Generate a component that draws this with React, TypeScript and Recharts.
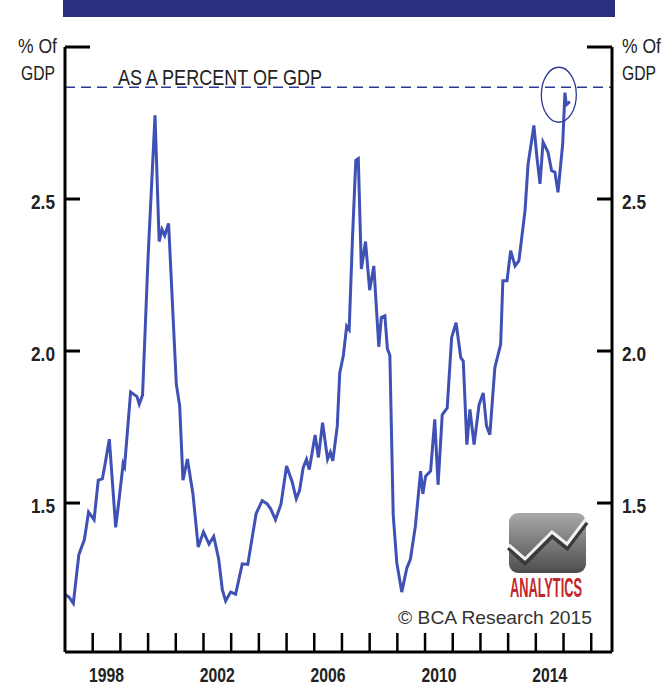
import React from "react";
import {
  LineChart,
  Line,
  XAxis,
  YAxis,
  ReferenceLine,
  ReferenceDot,
} from "recharts";

// decimal years and the ratio (% of GDP)
const years = [
  1997.0, 1997.15, 1997.3, 1997.5, 1997.7, 1997.85, 1998.05, 1998.2, 1998.35, 1998.45,
  1998.6, 1998.83, 1998.95, 1999.1, 1999.15, 1999.37, 1999.6, 1999.68, 1999.8, 2000.0,
  2000.25, 2000.4, 2000.5, 2000.6, 2000.74, 2001.02, 2001.14, 2001.26, 2001.42, 2001.62,
  2001.81, 2002.0, 2002.2, 2002.37, 2002.55, 2002.68, 2002.8, 2002.98, 2003.16, 2003.4,
  2003.6, 2003.9, 2004.12, 2004.3, 2004.43, 2004.6, 2004.8, 2005.0, 2005.2, 2005.35,
  2005.47, 2005.6, 2005.72, 2005.82, 2006.03, 2006.15, 2006.3, 2006.48, 2006.58, 2006.67,
  2006.83, 2006.92, 2007.05, 2007.17, 2007.26, 2007.38, 2007.5, 2007.59, 2007.7, 2007.85,
  2008.0, 2008.15, 2008.33, 2008.42, 2008.55, 2008.64, 2008.73, 2008.85, 2008.98, 2009.16,
  2009.34, 2009.47, 2009.65, 2009.84, 2009.92, 2010.02, 2010.2, 2010.35, 2010.47, 2010.62,
  2010.8, 2010.96, 2011.12, 2011.29, 2011.38, 2011.51, 2011.62, 2011.77, 2011.95, 2012.1,
  2012.22, 2012.34, 2012.52, 2012.73, 2012.81, 2012.96, 2013.09, 2013.25, 2013.39, 2013.61,
  2013.72, 2013.93, 2014.04, 2014.15, 2014.26, 2014.44, 2014.57, 2014.69, 2014.8, 2014.97,
  2015.05, 2015.1, 2015.23,
];

const ratio = [
  1.2, 1.19, 1.17, 1.33, 1.38, 1.47, 1.445, 1.575, 1.58, 1.63,
  1.71, 1.42, 1.51, 1.63, 1.62, 1.865, 1.85, 1.825, 1.855, 2.31,
  2.775, 2.36, 2.4, 2.38, 2.42, 1.89, 1.82, 1.575, 1.645, 1.53,
  1.355, 1.405, 1.365, 1.39, 1.315, 1.215, 1.178, 1.207, 1.2, 1.3,
  1.298, 1.465, 1.508, 1.497, 1.48, 1.445, 1.497, 1.622, 1.57, 1.514,
  1.542, 1.616, 1.644, 1.61, 1.724, 1.65, 1.764, 1.644, 1.667, 1.639,
  1.752, 1.928, 1.985, 2.082, 2.07, 2.372, 2.627, 2.633, 2.27, 2.36,
  2.2, 2.28, 2.014, 2.11, 2.116, 2.008, 1.985, 1.462, 1.303, 1.207,
  1.286, 1.315, 1.423, 1.605, 1.53, 1.588, 1.605, 1.775, 1.56, 1.79,
  1.813, 2.044, 2.093, 1.978, 1.967, 1.692, 1.808, 1.692, 1.823, 1.862,
  1.753, 1.725, 1.945, 2.022, 2.231, 2.231, 2.33, 2.28, 2.297, 2.462,
  2.615, 2.742, 2.637, 2.55, 2.687, 2.654, 2.593, 2.588, 2.522, 2.681,
  2.85, 2.81, 2.82,
];

const yearTicks = [
  1998, 1999, 2000, 2001, 2002, 2003, 2004, 2005, 2006, 2007,
  2008, 2009, 2010, 2011, 2012, 2013, 2014, 2015, 2016,
];
const labelYears = [1998, 2002, 2006, 2010, 2014];
const valueTicks = [1.5, 2.0, 2.5, 3.0];

const peakLevel = 2.868;
const circleAt = { x: 2014.83, y: 2.843 };

const data = years.map((t, i) => ({ t, v: ratio[i] }));

const W = 670;
const H = 698;
const LEFT = 65;
const RIGHT_W = 58;
const X_DOMAIN: [number, number] = [1997, 2016.75];
const pxPerYear = (W - LEFT - RIGHT_W) / (X_DOMAIN[1] - X_DOMAIN[0]);

// no condensed font installed, so squeeze with textLength
const sans = "'Liberation Sans', Arial, sans-serif";
const ink = "#222";
const squeeze = { lengthAdjust: "spacingAndGlyphs" as const };

const XTick = (props: any) => {
  const { x, y, payload } = props;
  const yr = payload.value;
  return (
    <g>
      <line x1={x} y1={y} x2={x} y2={y - 19} stroke="#000" strokeWidth={2.5} />
      {labelYears.includes(yr) && (
        <text
          x={x + pxPerYear / 2}
          y={y + 30}
          textAnchor="middle"
          fontFamily={sans}
          fontWeight="bold"
          fontSize={21}
          fill={ink}
          textLength={35}
          {...squeeze}
        >
          {yr}
        </text>
      )}
    </g>
  );
};

const makeYTick = (side: "left" | "right") => (props: any) => {
  const { x, y, payload } = props;
  const dir = side === "left" ? 1 : -1;
  const top = payload.value === 3;
  const len = top ? 25 : 15;
  const lx = side === "left" ? x - 10 : x + 10;
  return (
    <g>
      <line x1={x} y1={y} x2={x + dir * len} y2={y} stroke="#000" strokeWidth={3} />
      {top ? (
        <g fontFamily={sans} fontSize={21} fill={ink}>
          <text
            x={side === "left" ? 18 : x + 10}
            y={y + 6}
            textLength={39}
            {...squeeze}
          >
            % Of
          </text>
          <text
            x={side === "left" ? 21 : x + 10}
            y={y + 33}
            textLength={34}
            {...squeeze}
          >
            GDP
          </text>
        </g>
      ) : (
        <text
          x={lx}
          y={y + 10}
          textAnchor={side === "left" ? "end" : "start"}
          fontFamily={sans}
          fontWeight="bold"
          fontSize={21}
          fill={ink}
          textLength={24}
          {...squeeze}
        >
          {payload.value.toFixed(1)}
        </text>
      )}
    </g>
  );
};

const Logo = () => (
  <svg
    width={W}
    height={H}
    style={{ position: "absolute", left: 0, top: 0, pointerEvents: "none" }}
  >
    <defs>
      <linearGradient id="logoGrey" x1="0" y1="0" x2="0" y2="1">
        <stop offset="0%" stopColor="#a9a9a9" />
        <stop offset="100%" stopColor="#4d4d4d" />
      </linearGradient>
    </defs>
    <rect x={63} y={0} width={552} height={17} fill="#2b2f80" />
    <rect x={509} y={513} width={77} height={60} rx={9} fill="url(#logoGrey)" />
    <polyline
      points="509,547 525,562 552,535 567,547 586,522"
      fill="none"
      stroke="#3a3a3a"
      strokeWidth={6}
    />
    <polyline
      points="509,545 525,559 552,532 567,544 586,519"
      fill="none"
      stroke="#f2f2f2"
      strokeWidth={3}
    />
    <text
      x={510}
      y={597}
      fontFamily={sans}
      fontWeight="bold"
      fontSize={28}
      fill="#c1272d"
      textLength={72}
      {...squeeze}
    >
      ANALYTICS
    </text>
    <text
      x={592}
      y={624}
      textAnchor="end"
      fontFamily={sans}
      fontSize={19}
      fill="#333"
      textLength={194}
      {...squeeze}
    >
      © BCA Research 2015
    </text>
  </svg>
);

export default function App() {
  return (
    <div style={{ position: "absolute", left: 0, top: 0, width: W, height: H, background: "#fff" }}>
      <LineChart
        width={W}
        height={H}
        data={data}
        margin={{ top: 47, right: 0, bottom: 0, left: 0 }}
      >
        <XAxis
          dataKey="t"
          type="number"
          domain={X_DOMAIN}
          ticks={yearTicks}
          height={46}
          tickSize={0}
          tickMargin={0}
          tickLine={false}
          axisLine={{ stroke: "#000", strokeWidth: 3 }}
          tick={<XTick />}
          interval={0}
          allowDataOverflow
        />
        <YAxis
          yAxisId="l"
          orientation="left"
          width={LEFT}
          domain={[1.01, 3]}
          ticks={valueTicks}
          tickSize={0}
          tickMargin={0}
          tickLine={false}
          axisLine={{ stroke: "#000", strokeWidth: 3 }}
          tick={makeYTick("left")}
          interval={0}
          allowDataOverflow
        />
        <YAxis
          yAxisId="r"
          orientation="right"
          width={RIGHT_W}
          domain={[1.01, 3]}
          ticks={valueTicks}
          tickSize={0}
          tickMargin={0}
          tickLine={false}
          axisLine={{ stroke: "#000", strokeWidth: 3 }}
          tick={makeYTick("right")}
          interval={0}
          allowDataOverflow
        />
        <ReferenceLine
          yAxisId="l"
          y={peakLevel}
          stroke="#2d3a8f"
          strokeWidth={1.5}
          strokeDasharray="10 6"
          label={(p: any) => (
            <text
              x={p.viewBox.x + 53}
              y={p.viewBox.y - 2}
              fontFamily={sans}
              fontSize={22}
              fill={ink}
              textLength={204}
              {...squeeze}
            >
              AS A PERCENT OF GDP
            </text>
          )}
        />
        <Line
          yAxisId="l"
          type="linear"
          dataKey="v"
          stroke="#3f51b5"
          strokeWidth={3}
          dot={false}
          isAnimationActive={false}
        />
        <ReferenceDot
          yAxisId="l"
          x={circleAt.x}
          y={circleAt.y}
          shape={(p: any) => (
            <ellipse
              cx={p.cx}
              cy={p.cy}
              rx={17.5}
              ry={27.5}
              fill="none"
              stroke="#2d3a8f"
              strokeWidth={1.3}
            />
          )}
        />
      </LineChart>
      <Logo />
    </div>
  );
}
